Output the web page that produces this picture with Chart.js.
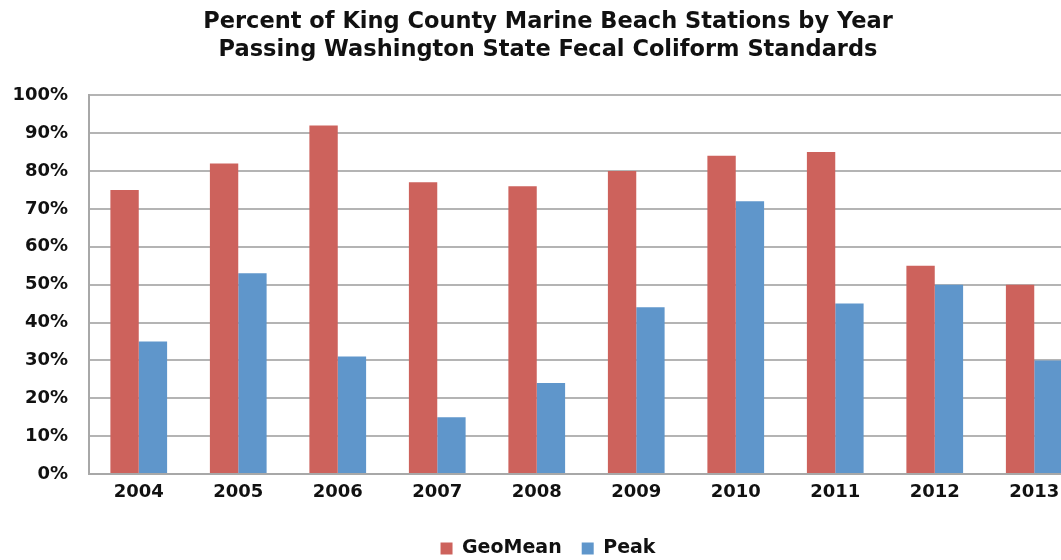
<!DOCTYPE html>
<html>
<head>
<meta charset="utf-8">
<script src="https://cdn.jsdelivr.net/npm/chart.js@4"></script>
<style>
  html, body { margin: 0; padding: 0; background: #fff; overflow: hidden; }
  #wrap { width: 1100px; height: 568px; }
</style>
</head>
<body>
<div id="wrap"><canvas id="myChart"></canvas></div>
<script>
const years = ['2004', '2005', '2006', '2007', '2008', '2009', '2010', '2011', '2012', '2013'];
const geoMean = [75, 82, 92, 77, 76, 80, 84, 85, 55, 50];
const peak = [35, 53, 31, 15, 24, 44, 72, 45, 50, 30];
const titleLines = [
  'Percent of King County Marine Beach Stations by Year',
  'Passing Washington State Fecal Coliform Standards'
];

const fontFamily = '"DejaVu Sans", "Liberation Sans", Arial, sans-serif';

const data = {
  labels: years,
  datasets: [{
    label: 'GeoMean',
    data: geoMean,
    backgroundColor: '#cd625c',
    borderWidth: 0
  }, {
    label: 'Peak',
    data: peak,
    backgroundColor: '#5f96cb',
    borderWidth: 0
  }]
};

const config = {
  type: 'bar',
  data: data,
  options: {
    responsive: true,
    maintainAspectRatio: false,
    animation: false,
    categoryPercentage: 0.57,
    barPercentage: 1.0,
    layout: { padding: { left: 12, right: 16, top: 8, bottom: 0 } },
    plugins: {
      title: {
        display: true,
        text: titleLines,
        color: '#111',
        font: { family: fontFamily, size: 22.5, weight: 'bold', lineHeight: 1.25 },
        padding: { top: 0, bottom: 31 }
      },
      legend: {
        position: 'bottom',
        labels: {
          color: '#111',
          font: { family: fontFamily, size: 19, weight: 'bold' },
          boxWidth: 12,
          boxHeight: 12,
          padding: 20
        }
      },
      tooltip: { enabled: false }
    },
    scales: {
      x: {
        grid: { display: false, drawTicks: false },
        border: { color: '#a8a8a8', width: 2 },
        ticks: {
          color: '#111',
          padding: 8,
          font: { family: fontFamily, size: 18, weight: 'bold' }
        },
        afterFit: scale => { scale.height = 45; }
      },
      y: {
        min: 0,
        max: 100,
        grid: { color: '#b4b4b4', lineWidth: 2, drawTicks: false },
        border: { color: '#a8a8a8', width: 2 },
        ticks: {
          stepSize: 10,
          color: '#111',
          padding: 21,
          font: { family: fontFamily, size: 18, weight: 'bold' },
          callback: v => v + '%'
        },
        afterFit: scale => { scale.width = 77; }
      }
    }
  }
};

const myChart = new Chart(
  document.getElementById('myChart'),
  config
);
</script>
</body>
</html>
